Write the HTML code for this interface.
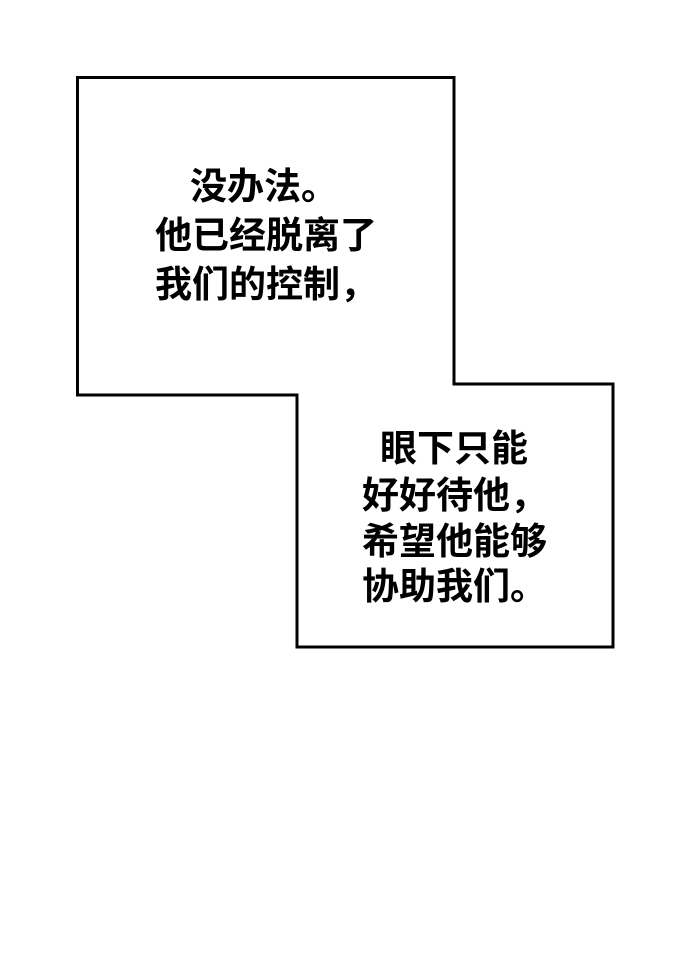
<!DOCTYPE html>
<html><head><meta charset="utf-8"><style>
html,body{margin:0;padding:0;background:#fff;}
body{width:690px;height:961px;position:relative;overflow:hidden;}
.t{position:absolute;font-family:"Liberation Sans","Noto Sans CJK SC",sans-serif;font-size:37px;font-weight:bold;color:#000;white-space:nowrap;}
</style></head><body>
<svg width="690" height="961" style="position:absolute;left:0;top:0">
<polygon points="77.5,77.5 454,77.5 454,384 613,384 613,647 297,647 297,395 77.5,395" fill="#fff" stroke="#000" stroke-width="3"/>
</svg>
<div class="t" style="left:190px;top:162px;line-height:49px">没办法。</div>
<div class="t" style="left:155px;top:211px;line-height:49px">他已经脱离了</div>
<div class="t" style="left:155px;top:260px;line-height:49px">我们的控制，</div>
<div class="t" style="left:380px;top:426px;line-height:46px">眼下只能</div>
<div class="t" style="left:362px;top:473px;line-height:46px">好好待他，</div>
<div class="t" style="left:362px;top:519px;line-height:46px">希望他能够</div>
<div class="t" style="left:362px;top:564px;line-height:46px">协助我们。</div>
</body></html>
